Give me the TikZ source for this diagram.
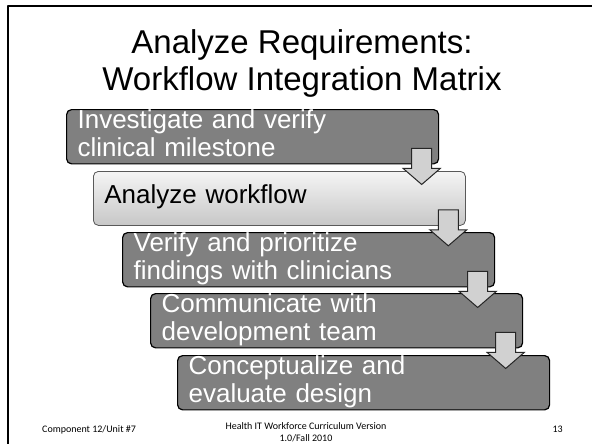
\documentclass[tikz,border=0pt]{standalone}
\usepackage{fontspec}
\setmainfont{Liberation Sans}
\newfontfamily\footfont{Carlito}
\usepackage{tikz}
\usetikzlibrary{calc}

% block arrow hanging from the lower right corner of a step
\newcommand{\stepdown}[1]{%
\draw[downarrow] ($(#1.south east)+(-27.5,-16)$) -- ++(20,0) -- ++(0,20) -- ++(8.5,0)
  -- ++(-18.5,16) -- ++(-18.5,-16) -- ++(8.5,0) -- cycle;}

\begin{document}
\begin{tikzpicture}[line cap=round,line join=round,x=1pt,y=-1pt,
  darkbox/.style={draw=black,line width=1.2pt,fill=black!50,rounded corners=5pt,
    text=white,anchor=north west,text width=350pt,inner xsep=11pt,inner ysep=0pt,
    minimum height=54pt,align=left,font=\fontsize{26}{26}\selectfont,
    execute at begin node=\strut,execute at end node=\strut},
  litebox/.style={darkbox,draw=black!65,line width=0.8pt,text=black,
    top color=black!4,bottom color=black!22},
  downarrow/.style={draw=black!85,line width=1pt,fill=black!18,line join=miter},
  foot/.style={inner sep=0pt,font=\footfont\fontsize{10}{12}\selectfont}]
\path[fill=white,use as bounding box] (0,0) rectangle (592,444);
\draw[line width=2.3pt,line cap=butt] (7.8,444) -- (7.8,6.2) -- (592,6.2);
%
\node[anchor=north,align=center,inner sep=0pt,font=\fontsize{33}{37}\selectfont]
  (title) at (302,29.4) {Analyze Requirements:\\Workflow Integration Matrix};
%
\node[darkbox] (invest) at (66,109) {Investigate and verify\\clinical milestone};
\node[litebox] (analyze) at (93,171) {Analyze workflow};
\node[darkbox] (verify) at (122,232) {Verify and prioritize\\findings with clinicians};
\node[darkbox] (commun) at (150,293) {Communicate with\\development team};
\node[darkbox] (concept) at (177,355) {Conceptualize and\\evaluate design};
%
\stepdown{invest}
\stepdown{analyze}
\stepdown{verify}
\stepdown{commun}
%
\node[foot,anchor=base west] (unit) at (42,432) {Component 12/Unit \#7};
\node[foot,anchor=north,align=center] (course) at (306,422)
  {Health IT Workforce Curriculum Version\\1.0/Fall 2010};
\node[foot,anchor=base east] (page) at (563,432) {13};
\end{tikzpicture}
\end{document}
